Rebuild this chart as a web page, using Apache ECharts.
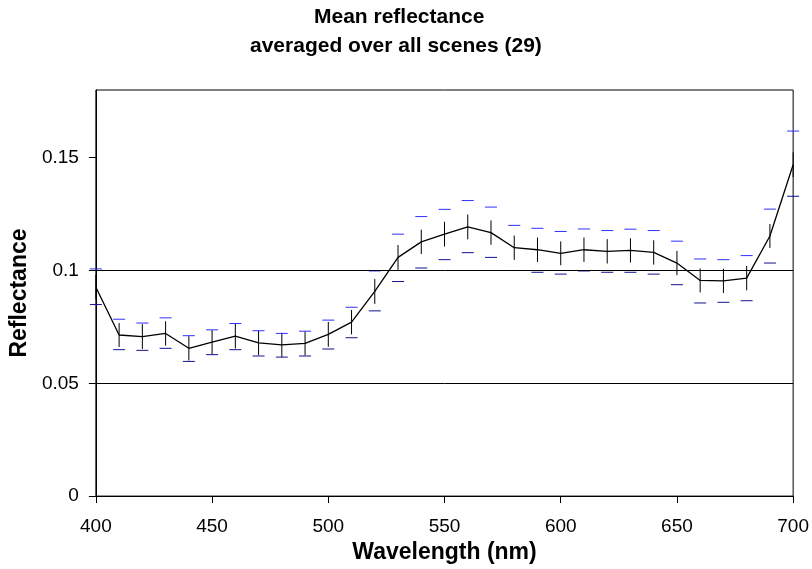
<!DOCTYPE html>
<html>
<head>
<meta charset="utf-8">
<script src="https://cdn.jsdelivr.net/npm/echarts@6/dist/echarts.min.js"></script>
<style>
html,body{margin:0;padding:0;background:#fff;}
#chart{width:812px;height:569px;}
</style>
</head>
<body>
<div id="chart"></div>
<script>
// Wavelength (nm)
const wavelengths = [400,410,420,430,440,450,460,470,480,490,500,510,520,530,540,550,560,570,580,590,600,610,620,630,640,650,660,670,680,690,700];
// Mean reflectance
const meanRefl = [0.0926,0.0714,0.0707,0.0721,0.0655,0.0682,0.0709,0.0679,0.0670,0.0677,0.0717,0.0771,0.0907,0.1058,0.1127,0.1161,0.1193,0.1168,0.1101,0.1092,0.1076,0.1092,0.1085,0.1089,0.1080,0.1033,0.0956,0.0954,0.0966,0.1153,0.1469];
// Half-length of the black vertical error bars
const barHalf = [0.0054,0.0053,0.0055,0.0054,0.0054,0.0054,0.0055,0.0054,0.0054,0.0054,0.0055,0.0054,0.0055,0.0055,0.0054,0.0055,0.0055,0.0054,0.0054,0.0054,0.0053,0.0054,0.0054,0.0054,0.0054,0.0054,0.0053,0.0054,0.0054,0.0053,0.0055];
// Blue dash markers (upper and lower)
const upperDash = [0.1007,0.0784,0.0767,0.0790,0.0711,0.0737,0.0765,0.0733,0.0721,0.0731,0.0780,0.0837,0.0998,0.1161,0.1239,0.1271,0.1310,0.1281,0.1200,0.1187,0.1173,0.1184,0.1177,0.1183,0.1177,0.1130,0.1051,0.1048,0.1066,0.1272,0.1618];
const lowerDash = [0.0849,0.0649,0.0646,0.0655,0.0597,0.0627,0.0649,0.0621,0.0616,0.0621,0.0652,0.0702,0.0821,0.0951,0.1011,0.1048,0.1079,0.1058,0.1000,0.0992,0.0984,0.0998,0.0992,0.0992,0.0984,0.0937,0.0856,0.0859,0.0866,0.1033,0.1329];
// Axis ticks
const yTicks = [0, 0.05, 0.1, 0.15];
const gridLines = [0.05, 0.1];

const FONT = '"Liberation Sans", Arial, sans-serif';
const chart = echarts.init(document.getElementById('chart'));

const lineData = wavelengths.map((w, i) => [w, meanRefl[i]]);
const errData = wavelengths.map((w, i) => [w, meanRefl[i] - barHalf[i], meanRefl[i] + barHalf[i], lowerDash[i], upperDash[i]]);

chart.setOption({
  animation: false,
  backgroundColor: '#fff',
  title: [
    {text: 'Mean reflectance', left: 314, top: 7, padding: 0,
     textStyle: {fontFamily: FONT, fontSize: 21, fontWeight: 'bold', color: '#000'}},
    {text: 'averaged over all scenes (29)', left: 250, top: 36, padding: 0,
     textStyle: {fontFamily: FONT, fontSize: 21, fontWeight: 'bold', color: '#000'}}
  ],
  grid: {left: 95, right: 17, top: 90, bottom: 70, show: true, borderColor: '#000', borderWidth: 1, backgroundColor: 'transparent'},
  xAxis: {
    type: 'value', min: 400, max: 700, interval: 50,
    name: 'Wavelength (nm)', nameLocation: 'middle', nameGap: 43,
    nameTextStyle: {fontFamily: FONT, fontSize: 23, fontWeight: 'bold', color: '#000'},
    axisLine: {show: true, lineStyle: {color: '#000', width: 1}},
    axisTick: {show: true, length: 7, inside: false, lineStyle: {color: '#000'}},
    axisLabel: {fontFamily: FONT, fontSize: 19, color: '#000', margin: 21},
    splitLine: {show: false}
  },
  yAxis: {
    type: 'value', min: 0, max: 0.18, interval: 0.05,
    name: 'Reflectance', nameLocation: 'middle', nameGap: 59, nameRotate: 90,
    nameTextStyle: {fontFamily: FONT, fontSize: 23, fontWeight: 'bold', color: '#000'},
    axisLine: {show: true, lineStyle: {color: '#000', width: 1}},
    axisTick: {show: true, length: 7, inside: false, customValues: yTicks, lineStyle: {color: '#000'}},
    axisLabel: {fontFamily: FONT, fontSize: 19, color: '#000', margin: 17, customValues: yTicks,
      formatter: v => String(+v.toFixed(2))},
    splitLine: {show: false}
  },
  series: [
    {
      type: 'line', data: lineData, symbol: 'none', z: 3,
      lineStyle: {color: '#000', width: 1.3},
      markLine: {
        silent: true, symbol: 'none', label: {show: false},
        lineStyle: {color: '#000', width: 1, type: 'solid'},
        data: gridLines.map(v => ({yAxis: v}))
      }
    },
    {
      type: 'custom', data: errData, z: 4, clip: false,
      renderItem: function (params, api) {
        const x = api.value(0);
        const bLo = api.coord([x, api.value(1)]);
        const bHi = api.coord([x, api.value(2)]);
        const dLo = api.coord([x, api.value(3)]);
        const dHi = api.coord([x, api.value(4)]);
        const hw = 6;
        return {
          type: 'group',
          children: [
            {type: 'line', shape: {x1: bLo[0], y1: bLo[1], x2: bHi[0], y2: bHi[1]}, style: {stroke: '#000', lineWidth: 1}},
            {type: 'line', shape: {x1: dHi[0] - hw, y1: dHi[1], x2: dHi[0] + hw, y2: dHi[1]}, style: {stroke: '#3030ff', lineWidth: 1}},
            {type: 'line', shape: {x1: dLo[0] - hw, y1: dLo[1], x2: dLo[0] + hw, y2: dLo[1]}, style: {stroke: '#121290', lineWidth: 1}}
          ]
        };
      }
    }
  ]
});
</script>
</body>
</html>
